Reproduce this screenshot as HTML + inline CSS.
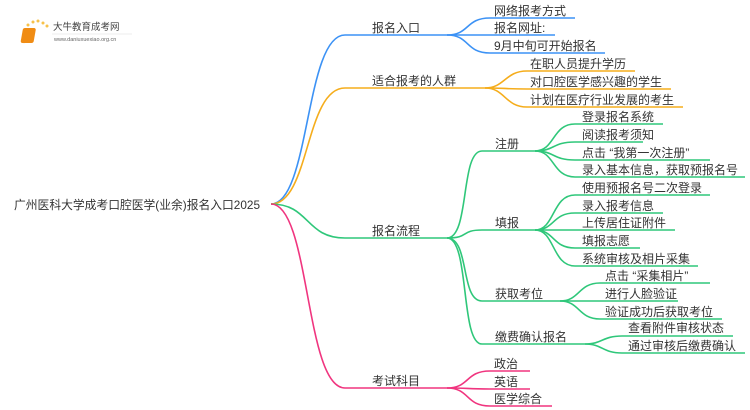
<!DOCTYPE html>
<html><head><meta charset="utf-8"><style>
html,body{margin:0;padding:0;background:#fff;width:750px;height:410px;overflow:hidden}
svg{display:block}
text{font-family:"Liberation Sans","Noto Sans CJK SC",sans-serif;font-size:12px;fill:#333}
path{fill:none;stroke-width:1.6}
.b{stroke:#3c92f5}.o{stroke:#f5ad1c}.g{stroke:#2fc77a}.p{stroke:#f0357f}
</style></head><body>
<svg width="750" height="410" viewBox="0 0 750 410">
<g>
<circle cx="25" cy="31" r="1.5" fill="#f7c24a"/><circle cx="28" cy="25" r="1.5" fill="#f7c24a"/>
<circle cx="33" cy="22" r="1.5" fill="#f7c24a"/><circle cx="38" cy="21" r="1.5" fill="#f7c24a"/>
<circle cx="43" cy="23" r="1.5" fill="#f7c24a"/><circle cx="47" cy="26" r="1.5" fill="#f7c24a"/>
<circle cx="23" cy="37" r="1.2" fill="#f7c24a"/><circle cx="24" cy="42" r="1.2" fill="#f7c24a"/>
<rect x="28" y="28" width="13" height="15" rx="2" fill="#f08c14" transform="skewX(-10)"/>
<text x="53" y="30" style="font-size:9.5px;fill:#444">大牛教育成考网</text>
<text x="54" y="41" style="font-size:5.5px;fill:#666">www.daniuxuexiao.org.cn</text>
<line x1="52" y1="34" x2="132" y2="34" stroke="#ddd" stroke-width="0.6"/>
</g>
<text x="14" y="209" textLength="246" lengthAdjust="spacingAndGlyphs">广州医科大学成考口腔医学(业余)报名入口2025</text>
<path class="b" d="M271 204 C310 204,305 35,345 35 L447 35"/>
<path class="o" d="M271 204 C310 204,305 88,345 88 L485 88"/>
<path class="g" d="M271 204 C310 204,305 238,345 238 L447 238"/>
<path class="p" d="M271 204 C310 204,305 388,345 388 L447 388"/>
<text x="372" y="32">报名入口</text>
<text x="372" y="85">适合报考的人群</text>
<text x="372" y="235">报名流程</text>
<text x="372" y="385">考试科目</text>
<path class="b" d="M447 35 C470 35,465 18,490 18 L575 18"/>
<path class="b" d="M447 35 L555 35"/>
<path class="b" d="M447 35 C470 35,465 53,490 53 L605 53"/>
<text x="494" y="15">网络报考方式</text>
<text x="494" y="32">报名网址:</text>
<text x="494" y="50">9月中旬可开始报名</text>
<path class="o" d="M485 88 C505 88,505 71,527 71 L635 71"/>
<path class="o" d="M485 88 C505 88,505 89,527 89 L671 89"/>
<path class="o" d="M485 88 C505 88,505 107,527 107 L683 107"/>
<text x="530" y="68">在职人员提升学历</text>
<text x="530" y="86">对口腔医学感兴趣的学生</text>
<text x="530" y="104">计划在医疗行业发展的考生</text>
<path class="g" d="M447 238 C470 238,460 151,482 151 L535 151"/>
<path class="g" d="M447 238 C470 238,460 230,482 230 L535 230"/>
<path class="g" d="M447 238 C470 238,460 301,482 301 L560 301"/>
<path class="g" d="M447 238 C470 238,460 344,482 344 L585 344"/>
<text x="495" y="148">注册</text>
<text x="495" y="227">填报</text>
<text x="495" y="298">获取考位</text>
<text x="495" y="341">缴费确认报名</text>
<path class="g" d="M535 151 C555 151,552 124,575 124 L663 124"/>
<path class="g" d="M535 151 C555 151,552 142,575 142 L643 142"/>
<path class="g" d="M535 151 C555 151,552 160,575 160 L710 160"/>
<path class="g" d="M535 151 C555 151,552 177,575 177 L745 177"/>
<text x="582" y="121">登录报名系统</text>
<text x="582" y="139">阅读报考须知</text>
<text x="582" y="157">点击 “我第一次注册”</text>
<text x="582" y="174">录入基本信息，获取预报名号</text>
<path class="g" d="M535 230 C555 230,552 195,575 195 L710 195"/>
<path class="g" d="M535 230 C555 230,552 213,575 213 L663 213"/>
<path class="g" d="M535 230 L675 230"/>
<path class="g" d="M535 230 C555 230,552 248,575 248 L640 248"/>
<path class="g" d="M535 230 C555 230,552 266,575 266 L698 266"/>
<text x="582" y="192">使用预报名号二次登录</text>
<text x="582" y="210">录入报考信息</text>
<text x="582" y="227">上传居住证附件</text>
<text x="582" y="245">填报志愿</text>
<text x="582" y="263">系统审核及相片采集</text>
<path class="g" d="M560 301 C580 301,578 283,600 283 L710 283"/>
<path class="g" d="M560 301 L678 301"/>
<path class="g" d="M560 301 C580 301,578 319,600 319 L722 319"/>
<text x="605" y="280">点击 “采集相片”</text>
<text x="605" y="298">进行人脸验证</text>
<text x="605" y="316">验证成功后获取考位</text>
<path class="g" d="M585 344 C603 344,602 336,622 336 L733 336"/>
<path class="g" d="M585 344 C603 344,602 353,622 353 L745 353"/>
<text x="628" y="332">查看附件审核状态</text>
<text x="628" y="350">通过审核后缴费确认</text>
<path class="p" d="M447 388 C470 388,465 371,490 371 L530 371"/>
<path class="p" d="M447 388 C470 388,465 389,490 389 L530 389"/>
<path class="p" d="M447 388 C470 388,465 406,490 406 L552 406"/>
<text x="494" y="368">政治</text>
<text x="494" y="386">英语</text>
<text x="494" y="403">医学综合</text>
</svg>
</body></html>
